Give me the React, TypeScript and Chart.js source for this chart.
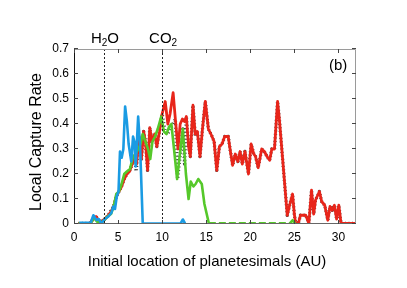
import React, { useEffect, useRef } from "react";
import { Chart, registerables } from "chart.js";

Chart.register(...registerables);

// ---- data ----
const blueX = [0.6, 1.0, 1.9, 2.2, 2.55, 2.8, 3.1, 3.5, 3.9, 4.25, 4.45, 4.65, 4.85, 5.05, 5.22, 5.41, 5.6, 5.8, 6.0, 6.2, 6.5, 6.7, 6.85, 7.0, 7.28, 7.5, 7.8, 8.5, 12.1, 12.35, 12.6];
const blueY = [0.005, 0.005, 0.005, 0.035, 0.016, 0.02, 0.002, 0.02, 0.03, 0.045, 0.07, 0.06, 0.11, 0.13, 0.29, 0.265, 0.3, 0.47, 0.41, 0.32, 0.25, 0.35, 0.33, 0.23, 0.43, 0.31, 0.003, 0.002, 0.002, 0.018, 0.002];

const greenX = [0.5, 1.9, 2.25, 2.6, 3.0, 3.4, 3.8, 4.2, 4.5, 4.8, 5.1, 5.4, 5.7, 6.0, 6.35, 6.7, 7.0, 7.3, 7.55, 7.8, 8.1, 8.4, 8.65, 8.9, 9.2, 9.5, 9.9, 10.2, 10.5, 10.8, 11.05, 11.35, 11.7, 11.95, 12.35, 12.7, 13.0, 13.25, 13.55, 13.8, 14.1, 14.5, 14.8, 15.3, 24.5, 24.8, 25.1];
const greenY = [0.002, 0.003, 0.025, 0.01, 0.003, 0.015, 0.03, 0.04, 0.07, 0.12, 0.13, 0.16, 0.2, 0.21, 0.22, 0.27, 0.28, 0.3, 0.32, 0.36, 0.33, 0.3, 0.26, 0.33, 0.35, 0.38, 0.43, 0.37, 0.36, 0.39, 0.4, 0.3, 0.18, 0.26, 0.38, 0.2, 0.1, 0.17, 0.15, 0.16, 0.18, 0.16, 0.08, 0.003, 0.003, 0.015, 0.002];

const redX = [0.5, 1.8, 2.2, 2.5, 2.8, 3.1, 3.5, 3.9, 4.2, 4.5, 4.8, 5.1, 5.4, 5.7, 6.0, 6.3, 6.6, 6.9, 7.1, 7.4, 7.65, 7.9, 8.1, 8.35, 8.6, 8.85, 9.15, 9.4, 9.7, 10.0, 10.35, 10.65, 10.9, 11.25, 11.5, 11.8, 12.05, 12.3, 12.55, 12.75, 13.0, 13.2, 13.5, 13.75, 14.0, 14.3, 14.55, 14.9, 15.25, 15.6, 15.9, 16.2, 16.5, 16.8, 17.1, 17.5, 17.75, 18.0, 18.3, 18.6, 18.85, 19.1, 19.4, 19.8, 20.1, 20.4, 20.6, 20.9, 21.3, 21.6, 21.9, 22.2, 22.45, 22.75, 23.1, 23.3, 24.2, 24.5, 24.8, 25.0, 25.15, 25.45, 25.7, 26.3, 26.65, 26.95, 27.2, 27.4, 27.85, 28.1, 28.45, 28.8, 29.05, 29.3, 29.55, 29.8, 30.05, 30.3, 32];
const redY = [0.002, 0.003, 0.02, 0.03, 0.015, 0.01, 0.02, 0.035, 0.05, 0.07, 0.11, 0.13, 0.15, 0.18, 0.2, 0.21, 0.24, 0.27, 0.24, 0.35, 0.26, 0.37, 0.33, 0.215, 0.385, 0.33, 0.36, 0.31, 0.37, 0.44, 0.49, 0.4, 0.44, 0.525, 0.42, 0.3, 0.4, 0.42, 0.41, 0.43, 0.31, 0.27, 0.475, 0.36, 0.37, 0.27, 0.37, 0.49, 0.38, 0.355, 0.33, 0.215, 0.31, 0.32, 0.35, 0.35, 0.29, 0.235, 0.28, 0.25, 0.29, 0.24, 0.29, 0.2, 0.32, 0.28, 0.27, 0.225, 0.3, 0.29, 0.27, 0.255, 0.3, 0.3, 0.49, 0.42, 0.035, 0.08, 0.12, 0.04, 0.002, 0.002, 0.035, 0.035, 0.002, 0.135, 0.04, 0.095, 0.13, 0.09, 0.075, 0.015, 0.07, 0.055, 0.075, 0.02, 0.075, 0.002, 0.002];

const blackX = [0.5, 1.8, 2.2, 2.5, 2.8, 3.1, 3.5, 3.9, 4.2, 4.5, 4.8, 5.1, 5.4, 5.7, 6.0, 6.3, 6.6, 6.9, 7.05, 7.4, 7.65, 7.9, 8.1, 8.35, 8.6, 8.85, 9.15, 9.4, 9.7, 10.0, 10.35, 10.65, 10.9, 11.25, 11.5, 11.75, 12.0, 12.35, 12.55, 12.75, 13.0, 13.2, 13.5, 13.75, 14.0, 14.3, 14.55, 14.9, 15.25, 15.6, 15.9, 16.2, 16.5, 16.8, 17.1, 17.5, 17.75, 18.0, 18.3, 18.6, 18.85, 19.1, 19.4, 19.8, 20.1, 20.4, 20.6, 20.9, 21.3, 21.6, 21.9, 22.2, 22.45, 22.75, 23.1, 23.3, 24.2, 24.5, 24.8, 25.0, 25.15, 25.45, 25.7, 26.3, 26.65, 26.95, 27.2, 27.4, 27.85, 28.1, 28.45, 28.8, 29.05, 29.3, 29.55, 29.8, 30.05, 30.3, 32];
const blackY = [0.002, 0.003, 0.02, 0.03, 0.015, 0.01, 0.02, 0.035, 0.055, 0.07, 0.11, 0.13, 0.15, 0.18, 0.2, 0.21, 0.24, 0.27, 0.21, 0.35, 0.26, 0.37, 0.33, 0.215, 0.385, 0.33, 0.36, 0.31, 0.37, 0.44, 0.37, 0.36, 0.38, 0.4, 0.42, 0.18, 0.26, 0.38, 0.24, 0.43, 0.31, 0.27, 0.475, 0.36, 0.37, 0.27, 0.37, 0.49, 0.38, 0.355, 0.33, 0.215, 0.31, 0.32, 0.35, 0.35, 0.29, 0.235, 0.28, 0.25, 0.29, 0.24, 0.29, 0.2, 0.32, 0.28, 0.27, 0.225, 0.3, 0.29, 0.27, 0.255, 0.3, 0.3, 0.49, 0.42, 0.035, 0.08, 0.12, 0.04, 0.002, 0.002, 0.035, 0.035, 0.002, 0.135, 0.04, 0.095, 0.13, 0.09, 0.075, 0.015, 0.07, 0.055, 0.075, 0.02, 0.075, 0.002, 0.002];

const xTicks = [0, 5, 10, 15, 20, 25, 30];
const yTicks = [0, 0.1, 0.2, 0.3, 0.4, 0.5, 0.6, 0.7];
const xMin = 0;
const xMax = 32;
const yMin = 0;
const yMax = 0.7;
const snowLines = [
  { x: 3.4, main1: "H", sub: "2", main2: "O" },
  { x: 10, main1: "CO", sub: "2", main2: "" },
];
const panelLabel = "(b)";
const xTitle = "Initial location of planetesimals (AU)";
const yTitle = "Local Capture Rate";

const FONT = "'Liberation Sans', Arial, Helvetica, sans-serif";

const pts = (xs: number[], ys: number[]) => xs.map((x, i) => ({ x, y: ys[i] }));

const overlay = {
  id: "overlay",
  afterDatasetsDraw(chart: any) {
    const { ctx, chartArea: a, scales } = chart;
    const xs = scales.x;
    const ys = scales.y;
    ctx.save();
    // dotted snow lines
    ctx.strokeStyle = "#222";
    ctx.lineWidth = 1;
    ctx.setLineDash([2, 2]);
    snowLines.forEach((s) => {
      const px = Math.round(xs.getPixelForValue(s.x)) + 0.5;
      ctx.beginPath();
      ctx.moveTo(px, a.top);
      ctx.lineTo(px, a.bottom);
      ctx.stroke();
    });
    ctx.setLineDash([]);
    // frame
    ctx.strokeStyle = "#9a9a9a";
    ctx.beginPath();
    ctx.moveTo(a.left, a.top + 0.5);
    ctx.lineTo(a.right - 0.5, a.top + 0.5);
    ctx.lineTo(a.right - 0.5, a.bottom - 0.5);
    ctx.stroke();
    ctx.strokeStyle = "#666";
    ctx.beginPath();
    ctx.moveTo(a.left, a.bottom - 0.5);
    ctx.lineTo(a.right, a.bottom - 0.5);
    ctx.stroke();
    ctx.strokeStyle = "#111";
    ctx.beginPath();
    ctx.moveTo(a.left + 0.5, a.top);
    ctx.lineTo(a.left + 0.5, a.bottom);
    ctx.stroke();
    // inward ticks
    const tl = 4;
    ctx.strokeStyle = "#444";
    xTicks.forEach((v) => {
      const px = Math.round(xs.getPixelForValue(v)) + 0.5;
      ctx.beginPath();
      ctx.moveTo(px, a.bottom);
      ctx.lineTo(px, a.bottom - tl);
      ctx.moveTo(px, a.top);
      ctx.lineTo(px, a.top + tl);
      ctx.stroke();
    });
    yTicks.forEach((v) => {
      const py = Math.round(ys.getPixelForValue(v)) - 0.5;
      ctx.beginPath();
      ctx.moveTo(a.left, py);
      ctx.lineTo(a.left + tl, py);
      ctx.moveTo(a.right, py);
      ctx.lineTo(a.right - tl, py);
      ctx.stroke();
    });
    // labels above plot
    ctx.fillStyle = "#000";
    ctx.textBaseline = "alphabetic";
    ctx.textAlign = "left";
    snowLines.forEach((s) => {
      const big = `15px ${FONT}`;
      const small = `10px ${FONT}`;
      ctx.font = big;
      const w1 = ctx.measureText(s.main1).width;
      const w3 = ctx.measureText(s.main2).width;
      ctx.font = small;
      const w2 = ctx.measureText(s.sub).width;
      const total = w1 + w2 + w3;
      const cx = xs.getPixelForValue(s.x) + 1;
      let x0 = cx - total / 2;
      const base = 43;
      ctx.font = big;
      ctx.fillText(s.main1, x0, base);
      x0 += w1;
      ctx.font = small;
      ctx.fillText(s.sub, x0, base + 3);
      x0 += w2;
      ctx.font = big;
      ctx.fillText(s.main2, x0, base);
    });
    ctx.font = `15px ${FONT}`;
    ctx.fillText(panelLabel, 329, 70);
    // axis titles
    ctx.textAlign = "center";
    ctx.textBaseline = "middle";
    ctx.font = `15px ${FONT}`;
    ctx.fillText(xTitle, 207, 262);
    ctx.save();
    ctx.translate(37, 142);
    ctx.rotate(-Math.PI / 2);
    ctx.font = `16px ${FONT}`;
    ctx.fillText(yTitle, 0, 0);
    ctx.restore();
    ctx.restore();
  },
};

export default function App() {
  const ref = useRef<HTMLCanvasElement | null>(null);
  useEffect(() => {
    document.body.style.margin = "0";
    const canvas = ref.current;
    if (!canvas) return;
    const line = (data: any, color: string, width: number, dash: number[] = []) => ({
      data,
      borderColor: color,
      backgroundColor: color,
      borderWidth: width,
      borderDash: dash,
      pointRadius: 0,
      tension: 0,
      fill: false,
      borderJoinStyle: "round" as const,
    });
    const green = {
      ...line(pts(greenX, greenY), "#55c82a", 2.6),
      segment: {
        borderDash: (c: any) =>
          c.p0.parsed.y < 0.005 && c.p1.parsed.y < 0.005 && c.p1.parsed.x - c.p0.parsed.x > 3 ? [7, 3] : undefined,
      },
    };
    const chart = new Chart(canvas, {
      type: "line",
      data: {
        datasets: [
          line(pts(blueX, blueY), "#1a9be3", 2.6),
          green,
          line(pts(redX, redY), "#e8251a", 2.8),
          line(pts(blackX, blackY), "rgba(0,0,0,0.75)", 3.4, [1, 2.5]),
        ],
      },
      plugins: [overlay],
      options: {
        responsive: false,
        animation: false,
        parsing: false,
        layout: { padding: { top: 49, right: 51, left: 0, bottom: 0 } },
        plugins: { legend: { display: false }, tooltip: { enabled: false } },
        scales: {
          x: {
            type: "linear",
            min: xMin,
            max: xMax,
            grid: { display: false, drawTicks: false },
            border: { display: false },
            afterBuildTicks: (s: any) => {
              s.ticks = xTicks.map((v) => ({ value: v }));
            },
            afterFit: (s: any) => {
              s.height = 64;
            },
            ticks: {
              color: "#000",
              padding: 6,
              maxRotation: 0,
              font: { family: FONT, size: 12 },
              callback: (v: any) => String(v),
            },
          },
          y: {
            type: "linear",
            min: yMin,
            max: yMax,
            grid: { display: false, drawTicks: false },
            border: { display: false },
            afterBuildTicks: (s: any) => {
              s.ticks = yTicks.map((v) => ({ value: v }));
            },
            afterFit: (s: any) => {
              s.width = 74;
            },
            ticks: {
              color: "#000",
              padding: 5,
              font: { family: FONT, size: 12 },
              callback: (v: any) => (Number(v) === 0 ? "0" : Number(v).toFixed(1)),
            },
          },
        },
      },
    });
    return () => chart.destroy();
  }, []);
  return (
    <div style={{ width: 407, height: 288, background: "#fff" }}>
      <canvas ref={ref} width={407} height={288} style={{ display: "block", width: 407, height: 288 }} />
    </div>
  );
}
